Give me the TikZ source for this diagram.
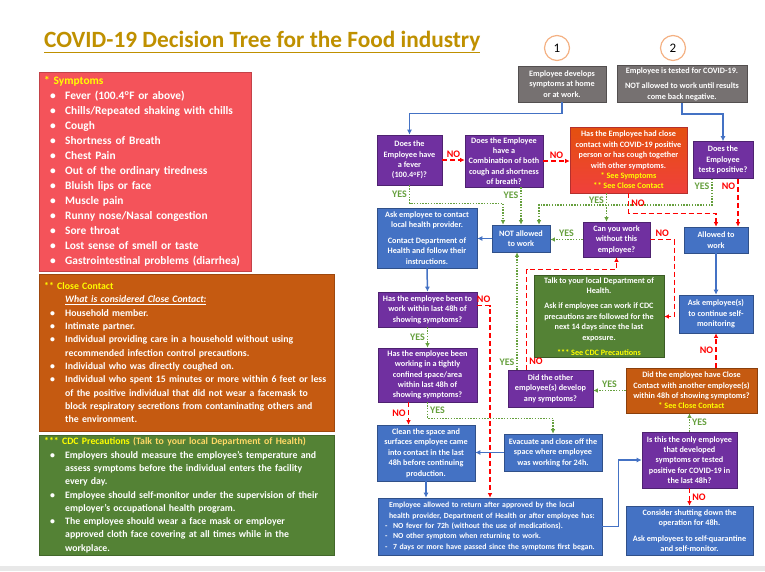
\documentclass[tikz,border=0pt]{standalone}
\usepackage{fontspec}
\setmainfont{Carlito}
\usetikzlibrary{positioning,arrows.meta,calc}
\definecolor{TitleGold}{HTML}{BF9000}
\definecolor{SympRed}{HTML}{F4535A}
\definecolor{ContactOrange}{HTML}{C55A11}
\definecolor{CdcGreen}{HTML}{548235}
\definecolor{FlowBlue}{HTML}{4472C4}
\definecolor{FlowPurple}{HTML}{7030A0}
\definecolor{FlowGray}{HTML}{767171}
\definecolor{HotTop}{HTML}{E4500F}
\definecolor{HotBottom}{HTML}{F0403C}
\definecolor{YesGreen}{HTML}{66A03E}
\definecolor{NoRed}{HTML}{FF0000}
\definecolor{RingOrange}{HTML}{F4B183}
\definecolor{NoteYellow}{HTML}{FFFF00}
\definecolor{NoteGold}{HTML}{FFD966}
\setlength{\parindent}{0pt}
\hyphenpenalty=10000
\newcommand\listdot{\par\hangindent=21pt\hangafter=1\noindent\makebox[21pt][l]{\hspace{6pt}\textbullet}}

\begin{document}
\begin{tikzpicture}[x=1pt,y=-1pt,
    card/.style={draw=#1!70!black,line width=0.6pt,fill=#1,text=white,
      font=\bfseries\fontsize{8.2}{10.4}\selectfont,align=center,inner sep=2pt},
    hotcard/.style={draw=HotBottom!75!black,line width=0.6pt,top color=HotTop,bottom color=HotBottom,
      text=white,font=\bfseries\fontsize{8.2}{10.4}\selectfont,align=center,inner sep=2pt},
    boxsize/.style 2 args={minimum width=#1pt,minimum height=#2pt},
    infobox/.style={fill=#1,draw=#1!80!black,text=white,anchor=north west,align=left,
      inner xsep=5pt,inner ysep=2pt},
    flowedge/.style={-{Latex[length=5pt,width=5pt]},line width=1.5pt,draw=FlowBlue},
    yesedge/.style={-{Latex[length=4.5pt,width=4.5pt]},line width=1.4pt,draw=YesGreen,
      dash pattern=on 1.4pt off 1.4pt},
    noedge/.style={-{Latex[length=4.5pt,width=4.5pt]},line width=1.6pt,draw=NoRed,
      dash pattern=on 5pt off 3pt},
    yeslab/.style={text=YesGreen,font=\bfseries\fontsize{10}{11}\selectfont,inner sep=2pt},
    nolab/.style={text=NoRed,font=\bfseries\fontsize{10}{11}\selectfont,inner sep=2pt}
  ]
  \useasboundingbox (0,0) rectangle (765,571);
  \fill[gray!18] (0,566) rectangle (765,571);

  % title and the two entry points
  \node[anchor=base west,inner sep=0pt,text=TitleGold,font=\bfseries\fontsize{23.3}{26}\selectfont]
    (title) at (44,47) {\underline{COVID-19 Decision Tree for the Food industry}};
  \foreach \n/\x in {1/557,2/673}
    \node[circle,draw=RingOrange,line width=1.2pt,minimum size=25pt,inner sep=0pt,
      font=\fontsize{13}{15}\selectfont] (num\n) at (\x,48) {\n};

  % notes on the left
  \node[infobox=SympRed,text width=202pt,minimum height=199pt,font=\bfseries\fontsize{11.4}{15}\selectfont]
    (symptoms) at (39,72) {{\color{NoteYellow}* Symptoms}
    \listdot Fever (100.4\textsuperscript{o}F or above)
    \listdot Chills/Repeated shaking with chills
    \listdot Cough
    \listdot Shortness of Breath
    \listdot Chest Pain
    \listdot Out of the ordinary tiredness
    \listdot Bluish lips or face
    \listdot Muscle pain
    \listdot Runny nose/Nasal congestion
    \listdot Sore throat
    \listdot Lost sense of smell or taste
    \listdot Gastrointestinal problems (diarrhea)\par};
  \node[infobox=ContactOrange,text width=285pt,minimum height=157pt,font=\bfseries\fontsize{9.8}{13.3}\selectfont]
    (closecontact) at (39,274) {{\color{NoteYellow}** Close Contact}\par
    \hspace*{21pt}\textit{\underline{What is considered Close Contact:}}
    \listdot Household member.
    \listdot Intimate partner.
    \listdot Individual providing care in a household without using\newline recommended infection control precautions.
    \listdot Individual who was directly coughed on.
    \listdot Individual who spent 15 minutes or more within 6 feet or less\newline of the positive individual that did not wear a facemask to\newline block respiratory secretions from contaminating others and\newline the environment.\par};
  \node[infobox=CdcGreen,text width=285pt,minimum height=120pt,font=\bfseries\fontsize{9.8}{13.3}\selectfont]
    (cdc) at (39,435) {{\color{NoteYellow}*** CDC Precautions} {\color{NoteGold}(Talk to your local Department of Health)}
    \listdot Employers should measure the employee's temperature and\newline assess symptoms before the individual enters the facility\newline every day.
    \listdot Employee should self-monitor under the supervision of their\newline employer's occupational health program.
    \listdot The employee should wear a face mask or employer\newline approved cloth face covering at all times while in the\newline workplace.\par};

  % decision tree
  \node[card=FlowGray,boxsize={88}{36}] (start1) at (562,84) {Employee develops\\symptoms at home\\or at work.};
  \node[card=FlowGray,boxsize={130}{36}] (start2) at (682,84) {Employee is tested for COVID-19.\\[5pt]NOT allowed to work until results\\come back negative.};
  \node[card=FlowPurple,boxsize={65}{50}] (fever) at (409.5,160) {Does the\\Employee have\\a fever\\(100.4\textsuperscript{o}F)?};
  \node[card=FlowPurple,boxsize={78}{52}] (combo) at (504,161) {Does the Employee\\have a\\Combination of both\\cough and shortness\\of breath?};
  \node[hotcard,boxsize={117}{66}] (contact) at (628.5,160) {Has the Employee had close\\contact with COVID-19 positive\\person or has cough together\\with other symptoms.\\{\color{NoteYellow}* See Symptoms}\\{\color{NoteYellow}** See Close Contact}};
  \node[card=FlowPurple,boxsize={60}{37}] (tested) at (723,160) {Does the\\Employee\\tests positive?};
  \node[card=FlowBlue,boxsize={100}{60}] (contactprov) at (427,238) {Ask employee to contact\\local health provider.\\[5pt]Contact Department of\\Health and follow their\\instructions.};
  \node[card=FlowBlue,boxsize={58}{27}] (notallowed) at (521,238.5) {NOT allowed\\to work};
  \node[card=FlowPurple,boxsize={67}{35}] (canwork) at (616.5,239.5) {Can you work\\without this\\employee?};
  \node[card=FlowBlue,boxsize={64}{26}] (allowed) at (716,240) {Allowed to\\work};
  \node[card=FlowPurple,boxsize={99}{35}] (beenwork) at (427.5,309.5) {Has the employee been to\\work within last 48h of\\showing symptoms?};
  \node[card=CdcGreen,boxsize={130}{81}] (talk) at (599,316.5) {Talk to your local Department of\\Health.\\[5pt]Ask if employee can work if CDC\\precautions are followed for the\\next 14 days since the last\\exposure.\\[5pt]{\color{NoteYellow}*** See CDC Precautions}};
  \node[card=FlowBlue,boxsize={74}{38}] (selfmon) at (716,314) {Ask employee(s)\\to continue self-\\monitoring};
  \node[card=FlowPurple,boxsize={99}{54}] (confined) at (427.5,375) {Has the employee been\\working in a tightly\\confined space/area\\within last 48h of\\showing symptoms?};
  \node[card=FlowPurple,boxsize={85}{37}] (didother) at (550.5,388.5) {Did the other\\employee(s) develop\\any symptoms?};
  \node[card=ContactOrange,boxsize={131}{45}] (closecontact2) at (691.5,390.5) {Did the employee have Close\\Contact with another employee(s)\\within 48h of showing symptoms?\\{\color{NoteYellow}* See Close Contact}};
  \node[card=FlowBlue,boxsize={98}{56}] (clean) at (426,453) {Clean the space and\\surfaces employee came\\into contact in the last\\48h before continuing\\production.};
  \node[card=FlowBlue,boxsize={98}{37}] (evacuate) at (553,452.5) {Evacuate and close off the\\space where employee\\was working for 24h.};
  \node[card=FlowPurple,boxsize={95}{56}] (onlyone) at (689.5,460) {Is this the only employee\\that developed\\symptoms or tested\\positive for COVID-19 in\\the last 48h?};
  \node[card=FlowBlue,align=left,text width=216pt,inner xsep=4pt,minimum height=57pt,
    font=\bfseries\fontsize{7.8}{10.3}\selectfont] (return) at (490,526.5)
    {\hspace*{7pt}Employee allowed to return after approved by the local\\
     \hspace*{7pt}health provider, Department of Health or after employee has:\\
     \hspace*{3pt}\makebox[8pt][l]{-}NO fever for 72h (without the use of medications).\\
     \hspace*{3pt}\makebox[8pt][l]{-}NO other symptom when returning to work.\\
     \hspace*{3pt}\makebox[8pt][l]{-}7 days or more have passed since the symptoms first began.};
  \node[card=FlowBlue,boxsize={127}{49}] (shutdown) at (689.5,530.5) {Consider shutting down the\\operation for 48h.\\[5pt]Ask employees to self-quarantine\\and self-monitor.};

  \draw[flowedge] (start1.south) -- ++(0,11) -| (fever.north);
  \draw[flowedge] (start2.south) -- ++(0,11) -| (tested.north);
  \draw[noedge] (fever.east) -- (fever.east -| combo.west) node[midway,above,nolab] {NO};
  \draw[noedge] (combo.east) -- (combo.east -| contact.west) node[midway,above,nolab] {NO};
  \draw[yesedge] (fever.south) -- ++(0,18) node[midway,left,yeslab] {YES} -| ([xshift=-18pt]notallowed.north);
  \draw[yesedge] (combo.south -| notallowed.north) -- (notallowed.north) node[pos=0.2,left,yeslab] {YES};
  \draw[yesedge] ([xshift=-11pt]tested.south) -- ++(0,26) node[pos=0.3,left,yeslab] {YES} -| ([xshift=18pt]notallowed.north);
  \draw[noedge] ([xshift=22pt]allowed.north |- tested.south) -- ([xshift=22pt]allowed.north) node[pos=0.16,left,nolab] {NO};
  \draw[yesedge] ([xshift=-10pt]canwork.north |- contact.south) -- ([xshift=-10pt]canwork.north) node[pos=0.25,left,yeslab] {YES};
  \draw[noedge] (contact.south) -- ++(0,20) node[midway,right,nolab] {NO} -| (allowed.north);
  \draw[flowedge] (notallowed.west) -- (notallowed.west -| contactprov.east);
  \draw[yesedge] (canwork.west) -- (canwork.west -| notallowed.east) node[midway,above,yeslab] {YES};
  \draw[noedge] (canwork.east) -- ++(24,0) node[midway,above,nolab] {NO} |- (talk.east);
  \draw[flowedge] (allowed.south) -- (selfmon.north);
  \draw[flowedge] (contactprov.south) -- (beenwork.north);
  \draw[noedge] ([yshift=4pt]beenwork.east) -| (return.north) node[pos=0.25,above,nolab] {NO};
  \draw[yesedge] (beenwork.south) -- (confined.north) node[midway,left,yeslab] {YES};
  \draw[noedge] ([xshift=-19pt]confined.south) -- ([xshift=-19pt]confined.south |- clean.north) node[midway,left,nolab] {NO};
  \draw[yesedge] (confined.south) -- ++(0,16) node[midway,right,yeslab] {YES} -| (evacuate.north);
  \draw[flowedge] (evacuate.west) -- (evacuate.west -| clean.east);
  \draw[flowedge] (clean.south) -- (clean.south |- return.north);
  \draw[flowedge] (return.east) -- ++(16,0) |- (onlyone.west);
  \draw[yesedge] (onlyone.north) -- (onlyone.north |- closecontact2.south) node[midway,right,yeslab] {YES};
  \draw[noedge] (onlyone.south) -- (onlyone.south |- shutdown.north) node[midway,right,nolab] {NO};
  \draw[noedge] (selfmon.south |- closecontact2.north) -- (selfmon.south) node[midway,left,nolab] {NO};
  \draw[yesedge] (closecontact2.west) -- (closecontact2.west -| didother.east) node[midway,above,yeslab] {YES};
  \draw[yesedge] ([xshift=-4pt]notallowed.south |- didother.north) -- ([xshift=-4pt]notallowed.south) node[pos=0.06,left,yeslab] {YES};
  \draw[noedge] ([xshift=-24pt]didother.north) |- ([yshift=-12pt]canwork.south) node[pos=0.04,right,nolab] {NO} -- (canwork.south);
\end{tikzpicture}
\end{document}
